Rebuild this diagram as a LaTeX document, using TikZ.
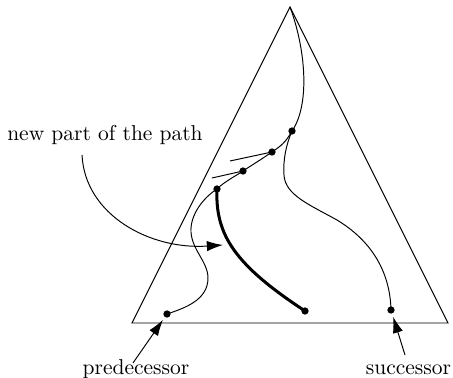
\documentclass[tikz,border=0pt]{standalone}
\usetikzlibrary{arrows.meta}
\begin{document}
\begin{tikzpicture}[x=0.465pt,y=-0.465pt,
  thinline/.style={line width=0.45pt},
  thickline/.style={line width=1.4pt},
  dot/.style={circle,fill=black,inner sep=0pt,minimum size=3.4pt},
  pointer/.style={line width=0.45pt,-{Latex[length=7.5pt,width=4.8pt]}},
  lbl/.style={anchor=base,inner sep=0pt}]
\useasboundingbox (0,0) rectangle (453,378);
% triangle
\coordinate (apex) at (290,7);
\coordinate (bl) at (132,323);
\coordinate (br) at (448,323);
\draw[thinline] (apex) -- (bl) -- (br) -- cycle;
% dots
\node[dot] (D1) at (292,131) {};
\node[dot] (D2) at (272,152) {};
\node[dot] (D3) at (243,171) {};
\node[dot] (D4) at (217,189) {};
\node[dot] (pdot) at (167,314) {};
\node[dot] (edot) at (305,311) {};
\node[dot] (sdot) at (391,310) {};
% path from apex to predecessor
\draw[thinline] (apex) .. controls (306,50) and (310,105) .. (D1.center)
  .. controls (286,142) and (281,146) .. (D2.center)
  .. controls (262,159) and (252,165) .. (D3.center)
  .. controls (234,177) and (224,182) .. (D4.center)
  .. controls (203,198) and (190,215) .. (191,232)
  .. controls (192,250) and (208,262) .. (208,278)
  .. controls (208,300) and (185,308) .. (pdot.center);
% path from D1 to successor
\draw[thinline] (D1.center) .. controls (286,145) and (283,160) .. (284,175)
  .. controls (285,195) and (310,205) .. (337,220)
  .. controls (370,240) and (390,270) .. (sdot.center);
% tangent segments
\coordinate (t2) at (230,161);
\coordinate (t3) at (212,178);
\draw[thinline] (D2.center) -- (t2);
\draw[thinline] (D3.center) -- (t3);
% new part (thick)
\draw[thickline] (D4.center) .. controls (215,235) and (235,265) .. (edot.center);
% labels
\node[lbl] (newtxt) at (105,141) {new part of the path};
\node[lbl] (predtxt) at (136,375) {predecessor};
\node[lbl] (succtxt) at (408.5,375) {successor};
% pointers
\coordinate (a1) at (82,155);
\coordinate (a2) at (223,245);
\draw[pointer] (a1) .. controls (85,215) and (150,250) .. (a2);
\coordinate (ps) at (133,363);
\coordinate (ss) at (405,355);
\draw[pointer,shorten >=3.3pt] (ps) -- (pdot.center);
\draw[pointer,shorten >=3.3pt] (ss) -- (sdot.center);
\end{tikzpicture}
\end{document}
